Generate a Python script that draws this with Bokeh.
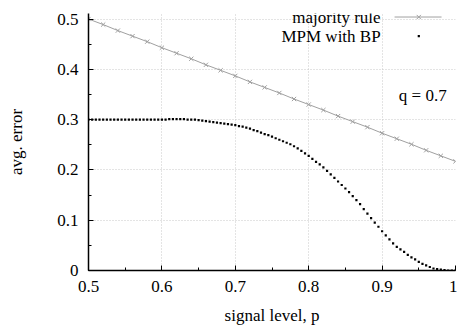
from bokeh.plotting import figure
from bokeh.models import SingleIntervalTicker, Range1d, Label
from bokeh.core.properties import value
from bokeh.embed import file_html
from bokeh.resources import INLINE

# ---- data ----
maj_p = [0.50, 0.52, 0.54, 0.56, 0.58, 0.60, 0.62, 0.64, 0.66, 0.68, 0.70, 0.72, 0.74,
         0.76, 0.78, 0.80, 0.82, 0.84, 0.86, 0.88, 0.90, 0.92, 0.94, 0.96, 0.98, 1.00]
maj_err = [0.500, 0.489, 0.477, 0.466, 0.455, 0.443, 0.432, 0.421, 0.409, 0.398, 0.387,
           0.375, 0.364, 0.353, 0.341, 0.330, 0.319, 0.307, 0.296, 0.285, 0.273, 0.262,
           0.251, 0.239, 0.228, 0.217]

mpm_p = [0.500, 0.505, 0.510, 0.515, 0.520, 0.525, 0.530, 0.535, 0.540, 0.545,
         0.550, 0.555, 0.560, 0.565, 0.570, 0.575, 0.580, 0.585, 0.590, 0.595,
         0.600, 0.605, 0.610, 0.615, 0.620, 0.625, 0.630, 0.635, 0.640, 0.645,
         0.650, 0.655, 0.660, 0.665, 0.670, 0.675, 0.680, 0.685, 0.690, 0.695,
         0.700, 0.705, 0.710, 0.715, 0.720, 0.725, 0.730, 0.735, 0.740, 0.745,
         0.750, 0.755, 0.760, 0.765, 0.770, 0.775, 0.780, 0.785, 0.790, 0.795,
         0.800, 0.805, 0.810, 0.815, 0.820, 0.825, 0.830, 0.835, 0.840, 0.845,
         0.850, 0.855, 0.860, 0.865, 0.870, 0.875, 0.880, 0.885, 0.890, 0.895,
         0.900, 0.905, 0.910, 0.915, 0.920, 0.925, 0.930, 0.935, 0.940, 0.945,
         0.950, 0.955, 0.960, 0.965, 0.970, 0.975, 0.980, 0.985, 0.990, 0.995,
         1.000]
mpm_err = [0.300, 0.300, 0.300, 0.300, 0.300, 0.300, 0.300, 0.300, 0.300, 0.300,
           0.300, 0.300, 0.300, 0.300, 0.300, 0.300, 0.300, 0.300, 0.300, 0.300,
           0.300, 0.300, 0.301, 0.301, 0.301, 0.301, 0.301, 0.300, 0.300, 0.300,
           0.299, 0.298, 0.297, 0.296, 0.295, 0.294, 0.293, 0.292, 0.291, 0.290,
           0.289, 0.287, 0.286, 0.284, 0.282, 0.279, 0.277, 0.274, 0.271, 0.269,
           0.266, 0.263, 0.260, 0.257, 0.254, 0.251, 0.247, 0.243, 0.238, 0.233,
           0.228, 0.222, 0.216, 0.211, 0.205, 0.198, 0.191, 0.184, 0.177, 0.170,
           0.163, 0.156, 0.148, 0.140, 0.132, 0.122, 0.113, 0.104, 0.095, 0.087,
           0.078, 0.070, 0.062, 0.054, 0.047, 0.042, 0.037, 0.031, 0.026, 0.022,
           0.017, 0.013, 0.010, 0.007, 0.004, 0.003, 0.002, 0.001, 0.000, 0.000,
           0.000]

x_tick_labels = {0.5: "0.5", 0.6: "0.6", 0.7: "0.7", 0.8: "0.8", 0.9: "0.9", 1.0: "1"}
y_tick_labels = {0.0: "0", 0.1: "0.1", 0.2: "0.2", 0.3: "0.3", 0.4: "0.4", 0.5: "0.5"}

series_names = ["majority rule", "MPM with BP"]
annotation_text = "q = 0.7"

FONT = "Liberation Serif"
FS = "17px"
GRAY = "#a0a0a0"

p = figure(width=457, height=330, output_backend="svg", toolbar_location=None,
           x_range=Range1d(0.5, 1.0), y_range=Range1d(0.0, 0.511),
           min_border_left=88, min_border_right=2, min_border_top=13, min_border_bottom=60)
p.outline_line_color = None
p.background_fill_color = "white"
p.border_fill_color = "white"

# axes
for ax, lab in ((p.xaxis[0], "signal level, p"), (p.yaxis[0], "avg. error")):
    ax.ticker = SingleIntervalTicker(interval=0.1, num_minor_ticks=2)
    ax.axis_label = lab
    ax.axis_label_text_font = FONT
    ax.axis_label_text_font_size = FS
    ax.axis_label_text_font_style = "normal"
    ax.major_label_text_font = FONT
    ax.major_label_text_font_size = FS
    ax.major_label_text_font_style = "normal"
    ax.major_label_text_color = "black"
    ax.axis_label_text_color = "black"
    ax.axis_line_color = "black"
    ax.axis_line_width = 1.5
    ax.major_tick_in = 5
    ax.major_tick_out = 0
    ax.minor_tick_in = 3
    ax.minor_tick_out = 0
    ax.major_tick_line_color = "black"
    ax.minor_tick_line_color = "black"
    ax.major_label_standoff = 10

p.xaxis[0].major_label_overrides = x_tick_labels
p.yaxis[0].major_label_overrides = y_tick_labels
p.xaxis[0].axis_label_standoff = 11
p.yaxis[0].axis_label_standoff = 28

# grid
for g in (p.xgrid[0], p.ygrid[0]):
    g.grid_line_color = "#c8c8c8"
    g.grid_line_dash = "1 2"
    g.grid_line_width = 1
    g.ticker = SingleIntervalTicker(interval=0.1)

# majority rule
p.line(maj_p, maj_err, line_color=GRAY, line_width=1)
p.scatter(maj_p, maj_err, marker="x", size=6, line_color=GRAY, line_width=1)

# MPM with BP
p.scatter(mpm_p, mpm_err, marker="square", size=2.2, fill_color="black", line_color=None)

# legend (drawn manually: label right-aligned, sample to the right)
leg_text_x = 0.898
leg_sample_x0, leg_sample_x1, leg_sample_xm = 0.917, 0.981, 0.950
leg_y = [0.504, 0.466]
p.text([leg_text_x, leg_text_x], leg_y, text=series_names, text_align="right",
       text_baseline="middle", text_font=value(FONT), text_font_size=value(FS),
       text_font_style=value("normal"), text_color="black")
p.line([leg_sample_x0, leg_sample_x1], [leg_y[0], leg_y[0]], line_color=GRAY, line_width=1)
p.scatter([leg_sample_xm], [leg_y[0]], marker="x", size=6, line_color=GRAY, line_width=1)
p.scatter([leg_sample_xm], [leg_y[1]], marker="square", size=2.2, fill_color="black",
          line_color=None)

p.add_layout(Label(x=0.988, y=0.347, text=annotation_text, text_align="right",
                   text_baseline="middle", text_font=FONT, text_font_size=FS,
                   text_font_style="normal", text_color="black"))

open("out.html", "w").write(file_html(p, INLINE))
